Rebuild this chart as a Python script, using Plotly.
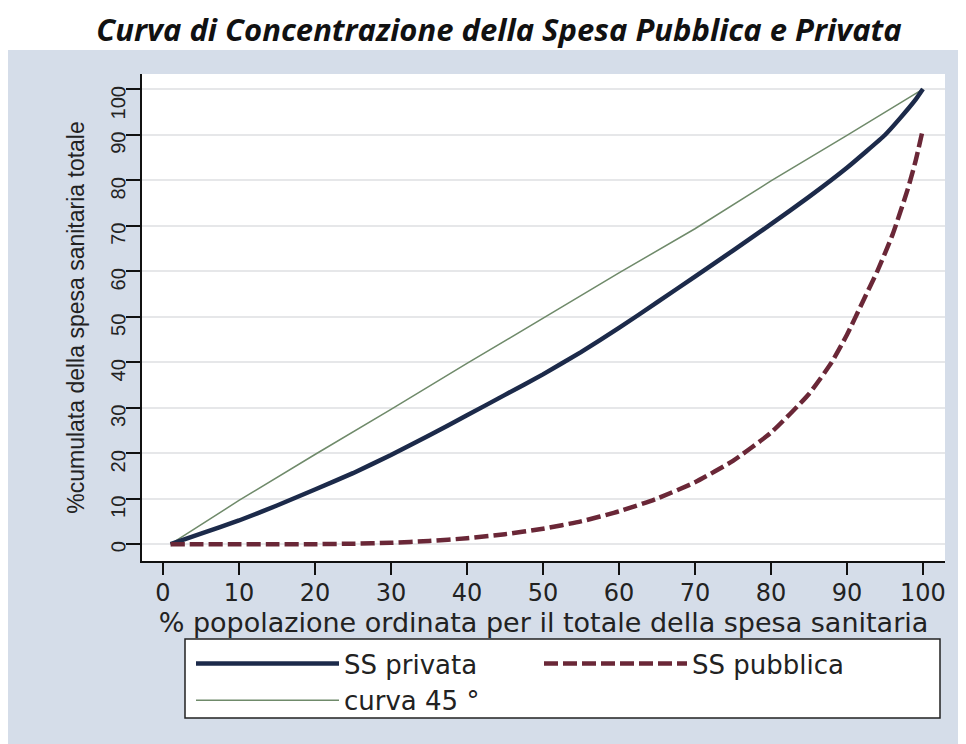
import plotly.graph_objects as go

# ---- data ----
x_priv = [1, 5, 10, 15, 20, 25, 30, 35, 40, 45, 50, 55, 60, 65, 70, 75, 80, 85, 90, 95, 97, 99, 100]
y_priv = [0, 2.3, 5.2, 8.5, 12, 15.6, 19.6, 23.9, 28.3, 32.8, 37.3, 42.2, 47.5, 53.1, 58.8, 64.5, 70.3, 76.3, 82.7, 89.9, 93.6, 97.6, 100]

x_pubb = [1, 5, 10, 15, 20, 25, 30, 35, 40, 45, 50, 55, 60, 65, 70, 75, 80, 85, 88, 90, 92, 94, 96, 98, 99, 100]
y_pubb = [0, 0, 0, 0, 0, 0.1, 0.3, 0.7, 1.3, 2.2, 3.4, 5, 7.2, 10, 13.6, 18.3, 24.5, 33, 40, 46, 53, 60, 68, 78, 84, 91.2]

x_45 = [1, 10, 20, 30, 40, 50, 60, 70, 80, 90, 100]
y_45 = [0, 9.6, 19.7, 29.6, 39.7, 49.7, 59.6, 69.3, 79.8, 89.8, 100]

x_ticks = [0, 10, 20, 30, 40, 50, 60, 70, 80, 90, 100]
y_ticks = [0, 10, 20, 30, 40, 50, 60, 70, 80, 90, 100]

title_text = "Curva di Concentrazione della Spesa Pubblica e Privata"
x_title = "% popolazione ordinata per il totale della spesa sanitaria"
y_title = "%cumulata della spesa sanitaria totale"
names = ["SS privata", "SS pubblica", "curva 45 °"]

OFF = 8  # page body margin: screen coords = figure coords + 8
W, H = 958, 736
L, R, T, B = 142 - OFF, 945 - OFF, 74 - OFF, 561 - OFF


def px_x(p):
    return (p - OFF - L) / (R - L)


def px_y(p):
    return (B - (p - OFF)) / (B - T)


fig = go.Figure()
fig.add_trace(go.Scatter(x=x_45, y=y_45, mode="lines", name=names[2],
                         line=dict(color="#6f8a6a", width=1.5), legendrank=3))
fig.add_trace(go.Scatter(x=x_priv, y=y_priv, mode="lines", name=names[0],
                         line=dict(color="#1c2a4a", width=4.5, shape="spline", smoothing=0.4),
                         legendrank=1))
fig.add_trace(go.Scatter(x=x_pubb, y=y_pubb, mode="lines", name=names[1],
                         line=dict(color="#6a2737", width=4.5, dash="14px,5px",
                                   shape="spline", smoothing=0.5),
                         legendrank=2))

# outer bluish panel, white plot region, legend box
fig.add_shape(type="rect", xref="paper", yref="paper", layer="below",
              x0=px_x(8), x1=px_x(960), y0=px_y(760), y1=px_y(50),
              fillcolor="#d5dde9", line=dict(width=0))
fig.add_shape(type="rect", xref="paper", yref="paper", layer="below",
              x0=0, x1=1, y0=0, y1=1, fillcolor="white", line=dict(width=0))
fig.add_shape(type="rect", xref="paper", yref="paper", layer="below",
              x0=px_x(185), x1=px_x(940), y0=px_y(718), y1=px_y(639),
              fillcolor="white", line=dict(color="#222222", width=1.5))

fig.update_layout(
    width=W, height=H,
    margin=dict(l=L, r=W - R, t=T, b=H - B),
    paper_bgcolor="white",
    plot_bgcolor="white",
    title=dict(text=title_text, x=(499 - OFF) / W, xanchor="center", y=1 - (30 - OFF) / H,
               yanchor="middle",
               font=dict(family="Open Sans", size=31, color="#111111", weight="bold", style="italic")),
    showlegend=True,
    legend=dict(orientation="h", x=px_x(191), y=px_y(640), xanchor="left", yanchor="top",
                bgcolor="rgba(0,0,0,0)", borderwidth=0, itemwidth=143, entrywidth=190,
                font=dict(family="DejaVu Sans", size=26, color="#222222"),
                traceorder="normal"),
    xaxis=dict(range=[-2.76, 102.9], tickvals=x_ticks, ticktext=[str(v) for v in x_ticks],
               showgrid=False, zeroline=False, showline=True, linecolor="#111111", linewidth=1.5,
               ticks="outside", ticklen=12, tickwidth=1.5, tickcolor="#111111",
               ticklabelstandoff=-3,
               tickfont=dict(family="DejaVu Sans", size=24, color="#222222"),
               title=dict(text=x_title, standoff=0,
                          font=dict(family="DejaVu Sans", size=27, color="#222222"))),
    yaxis=dict(range=[-3.7, 103.3], tickvals=y_ticks, ticktext=[str(v) for v in y_ticks],
               showgrid=True, gridcolor="#e6e7e9", gridwidth=1.5, zeroline=False,
               showline=True, linecolor="#111111", linewidth=1.5,
               ticks="outside", ticklen=14, tickwidth=1.5, tickcolor="#111111",
               tickangle=-89.5, ticklabelstandoff=7,
               tickfont=dict(family="Liberation Sans", size=20, color="#222222"),
               title=dict(text=y_title, standoff=16,
                          font=dict(family="Liberation Sans", size=23, color="#222222"))),
)

fig.write_html("out.html")
